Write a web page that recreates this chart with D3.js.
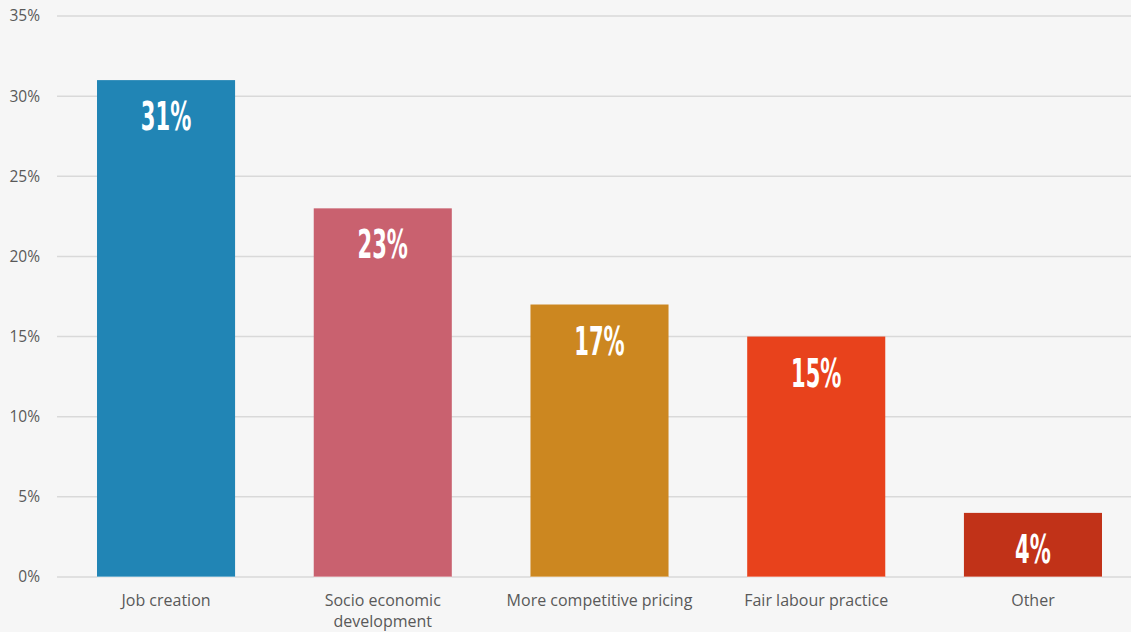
<!DOCTYPE html>
<html><head><meta charset="utf-8">
<script src="https://cdn.jsdelivr.net/npm/d3@7"></script>
<style>
html,body{margin:0;padding:0;background:#f6f6f6;}
svg{display:block;}
</style></head>
<body>
<svg id="chart" width="1131" height="632"></svg>
<script>
const categories = [["Job creation"], ["Socio economic", "development"], ["More competitive pricing"], ["Fair labour practice"], ["Other"]];
const values = [31, 23, 17, 15, 4];
const colors = ["#2185b5", "#c9616f", "#cc8720", "#e8421c", "#c13218"];
const yTicks = [0, 5, 10, 15, 20, 25, 30, 35];

const svg = d3.select("#chart");
const W = 1131, H = 632;
svg.append("rect").attr("width", W).attr("height", H).attr("fill", "#f6f6f6");

const x = d3.scaleBand().domain(d3.range(values.length)).range([58, 1141]).paddingInner(0.363).paddingOuter(0.18);
const y = d3.scaleLinear().domain([0, 35]).range([577, 16]);

// gridlines
svg.append("g").selectAll("line").data(yTicks).join("line")
  .attr("x1", 57).attr("x2", W)
  .attr("y1", d => y(d)).attr("y2", d => y(d))
  .attr("stroke", "#d9d9d9").attr("stroke-width", 1.5);

// y labels
svg.append("g").selectAll("text").data(yTicks).join("text")
  .attr("x", 40).attr("y", d => y(d)).attr("dy", "0.35em")
  .attr("text-anchor", "end")
  .attr("font-family", "'Open Sans', 'Noto Sans', sans-serif").attr("font-size", 15.5)
  .attr("fill", "#595959")
  .text(d => d + "%");

// bars
svg.append("g").selectAll("rect").data(values).join("rect")
  .attr("x", (d, i) => x(i)).attr("width", x.bandwidth())
  .attr("y", d => y(d)).attr("height", d => y(0) - y(d))
  .attr("fill", (d, i) => colors[i]);

// baseline highlight over bars
svg.append("g").selectAll("line").data(values).join("line")
  .attr("x1", (d, i) => x(i)).attr("x2", (d, i) => x(i) + x.bandwidth())
  .attr("y1", y(0)).attr("y2", y(0))
  .attr("stroke", "#ffffff").attr("stroke-opacity", 0.45).attr("stroke-width", 1.5);

// value labels
svg.append("g").selectAll("text").data(values).join("text")
  .attr("transform", (d, i) => `translate(${x(i) + x.bandwidth() / 2},${y(d) + 50}) scale(0.6,1)`)
  .attr("text-anchor", "middle")
  .attr("font-family", "'DejaVu Sans Condensed', 'DejaVu Sans', sans-serif")
  .attr("font-weight", "bold").attr("font-size", 39)
  .attr("fill", "#ffffff")
  .text(d => d + "%");

// category labels
const cat = svg.append("g").selectAll("text").data(categories).join("text")
  .attr("x", (d, i) => x(i) + x.bandwidth() / 2).attr("y", 606)
  .attr("text-anchor", "middle")
  .attr("font-family", "'Open Sans', 'Noto Sans', sans-serif").attr("font-size", 16)
  .attr("fill", "#595959");
cat.each(function(d) {
  const t = d3.select(this);
  d.forEach((line, j) => {
    t.append("tspan").attr("x", t.attr("x")).attr("dy", j === 0 ? 0 : 21).text(line);
  });
});
</script>
</body></html>
